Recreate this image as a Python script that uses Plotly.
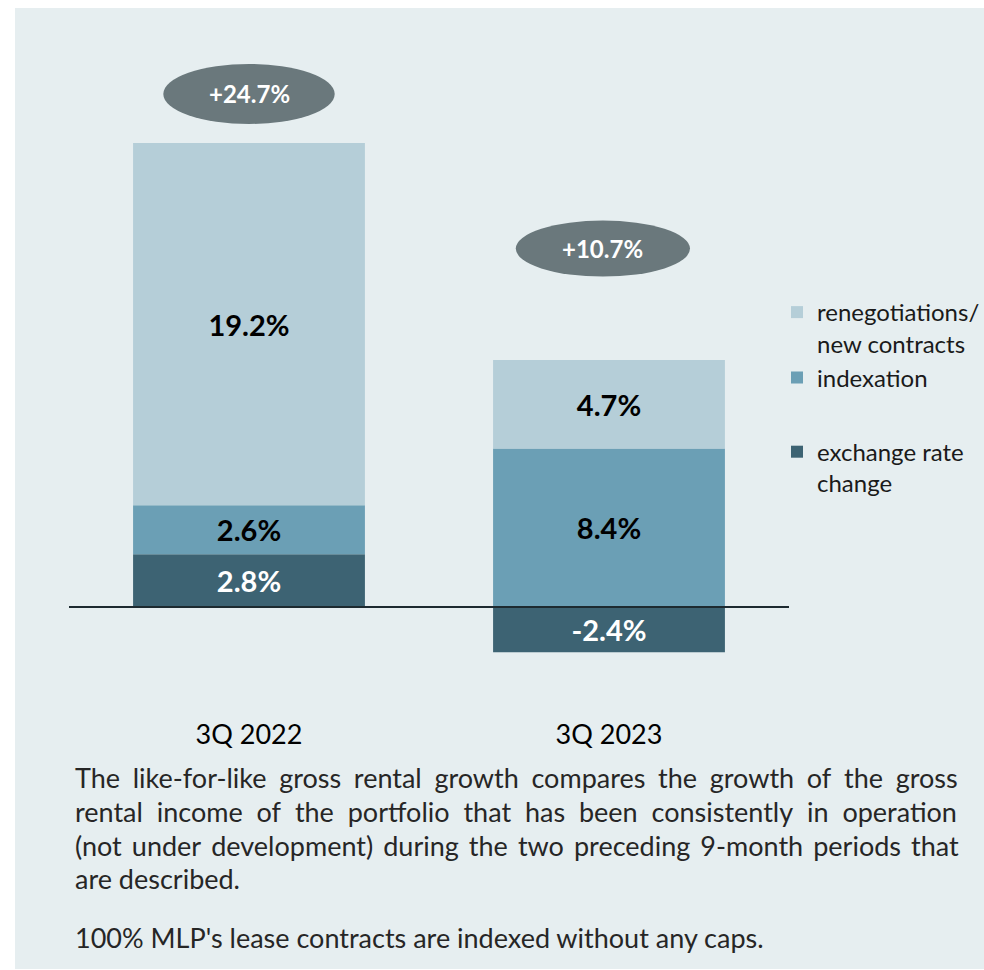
import plotly.graph_objects as go

# ---------------- data ----------------
categories = ["3Q 2022", "3Q 2023"]
series_names = ["exchange rate<br>change", "indexation", "renegotiations/<br>new contracts"]
exchange_rate = [2.8, -2.4]
indexation = [2.6, 8.4]
renegotiations = [19.2, 4.7]
growth_total = [24.7, 10.7]

body_lines = [
    "The like-for-like gross rental growth compares the growth of the gross",
    "rental income of the portfolio that has been consistently in operation",
    "(not under development) during the two preceding 9-month periods that",
    "are described.",
]
footnote = "100% MLP's lease contracts are indexed without any caps."

# ---------------- style ----------------
FONT = "Lato"
C_DARK = "#3d6373"
C_MID = "#6b9fb5"
C_LIGHT = "#b5ced8"
C_PANEL = "#e6eef0"
C_BUBBLE = "#6a787c"
C_TEXT = "#262626"

W, H = 984, 970
ML, MR, MT, MB = 69, 195, 40, 258
PW, PH = W - ML - MR, H - MT - MB
Y_RANGE = [-5.567, 30.06]
ppu = PH / (Y_RANGE[1] - Y_RANGE[0])

BODY_FS = 27
SPACE_EM = 0.218           # width of a space in Lato, in em (measured)
# extra px added to each word gap to justify the first three lines
justify_extra = [4.9, 5.9, 2.67, 0.0]

def fmt(v):
    return f"{v:.1f}%"

def justify(line, extra):
    if extra <= 0:
        return line
    gap_w = BODY_FS * SPACE_EM + extra
    fs = gap_w / (3 * SPACE_EM)
    sep = f'<span style="font-size:{fs:.2f}px">\u00a0\u00a0\u00a0</span>'
    return sep.join(line.split(" "))

fig = go.Figure()
series = [
    (series_names[0], exchange_rate, C_DARK, "white", "g2", 3),
    (series_names[1], indexation, C_MID, "black", "g1", 2),
    (series_names[2], renegotiations, C_LIGHT, "black", "g1", 1),
]
for name, vals, col, tcol, grp, rank in series:
    fig.add_trace(go.Bar(
        x=categories, y=vals, name=name, legendgroup=grp, legendrank=rank,
        marker=dict(color=col, line=dict(width=0)),
        text=[fmt(v) for v in vals], textposition="inside",
        insidetextanchor="middle", textangle=0, constraintext="none",
        textfont=dict(family=FONT, size=29, color=tcol, weight="bold"),
        width=0.644, hoverinfo="skip",
    ))

# background panel
fig.add_shape(type="rect", xref="paper", yref="paper",
              x0=(15 - ML) / PW, x1=(W - ML) / PW + 0.01,
              y0=(MT + PH - 969) / PH, y1=(MT + PH - 8) / PH,
              fillcolor=C_PANEL, line=dict(width=0), layer="below")

# zero line
fig.add_shape(type="line", xref="paper", yref="y", x0=0, x1=1, y0=0, y1=0,
              line=dict(color="#1d2a30", width=2), layer="above")

# total bubbles
bubble_specs = [  # (x centre offset, y offset above stack top, half width, half height)
    (0.0, 2.6, 0.238, 30 / ppu),
    (-0.017, 5.9, 0.242, 28 / ppu),
]
for i, (dx, dy, hw, hh) in enumerate(bubble_specs):
    top = sum(v for v in (exchange_rate[i], indexation[i], renegotiations[i]) if v > 0)
    cx, cy = i + dx, top + dy
    fig.add_shape(type="circle", xref="x", yref="y",
                  x0=cx - hw, x1=cx + hw, y0=cy - hh, y1=cy + hh,
                  fillcolor=C_BUBBLE, line=dict(width=0), layer="above")
    fig.add_annotation(x=cx, y=cy, xref="x", yref="y", text=f"+{growth_total[i]:.1f}%",
                       showarrow=False,
                       font=dict(family=FONT, size=24, color="white", weight="bold"))

# body text
def ypaper(py):
    return (MT + PH - py) / PH

for k, line in enumerate(body_lines):
    fig.add_annotation(x=(73 - ML) / PW, y=ypaper(777 + 34 * k), xref="paper", yref="paper",
                       xanchor="left", yanchor="middle",
                       text=justify(line, justify_extra[k]), showarrow=False,
                       font=dict(family=FONT, size=BODY_FS, color=C_TEXT))
fig.add_annotation(x=(73 - ML) / PW, y=ypaper(937), xref="paper", yref="paper",
                   xanchor="left", yanchor="middle", text=footnote, showarrow=False,
                   font=dict(family=FONT, size=BODY_FS, color=C_TEXT))

fig.update_layout(
    width=W, height=H, autosize=False,
    margin=dict(l=ML, r=MR, t=MT, b=MB, pad=0, autoexpand=False),
    paper_bgcolor="white", plot_bgcolor="rgba(0,0,0,0)",
    barmode="relative",
    showlegend=True,
    legend=dict(x=(777 - ML) / PW, xanchor="left", y=ypaper(290), yanchor="top",
                traceorder="grouped", tracegroupgap=40, valign="top",
                font=dict(family=FONT, size=24, color="#1a1a1a"),
                bgcolor="rgba(0,0,0,0)", itemclick=False, itemdoubleclick=False),
    xaxis=dict(range=[-0.5, 1.5], showgrid=False, zeroline=False, showline=False,
               ticks="", ticklabelstandoff=4,
               tickfont=dict(family=FONT, size=27, color="black")),
    yaxis=dict(range=Y_RANGE, visible=False, showgrid=False, zeroline=False),
    font=dict(family=FONT),
)

fig.write_html(
    "out.html",
    config={"displayModeBar": False, "responsive": False},
    post_script="document.body.style.margin='0';",
)
